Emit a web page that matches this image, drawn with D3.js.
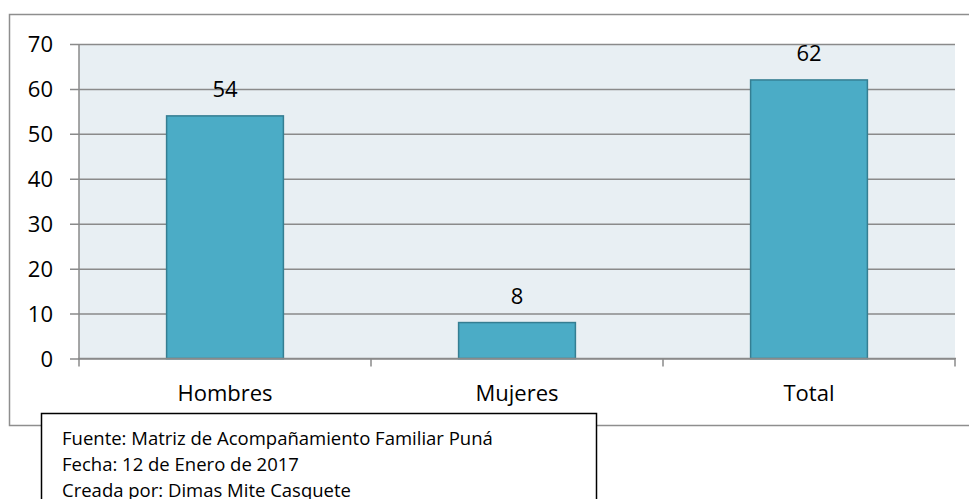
<!DOCTYPE html>
<html>
<head>
<meta charset="utf-8">
<script src="https://cdn.jsdelivr.net/npm/d3@7"></script>
<style>
  body { margin: 0; background: #fff; }
  text { font-family: "Open Sans", "Noto Sans", sans-serif; fill: #000; }
</style>
</head>
<body>
<div id="chart"></div>
<script>
// Data
var categories = ['Hombres', 'Mujeres', 'Total'];
var values     = [54, 8, 62];
var yTicks     = [0, 10, 20, 30, 40, 50, 60, 70];
var notes      = [
  'Fuente: Matriz de Acompañamiento Familiar Puná',
  'Fecha: 12 de Enero de 2017',
  'Creada por: Dimas Mite Casquete'
];

var W = 969, H = 499;
var plot = {left: 79, right: 955, top: 44, bottom: 358.5};

var svg = d3.select('#chart').append('svg')
  .attr('width', W)
  .attr('height', H);

// Outer chart frame (its right edge lies outside the picture)
svg.append('rect')
  .attr('x', 9.5).attr('y', 14.5)
  .attr('width', 980).attr('height', 411)
  .attr('fill', '#fff')
  .attr('stroke', '#8e8e8e')
  .attr('stroke-width', 1.5);

var x = d3.scaleBand()
  .domain(categories)
  .range([plot.left, plot.right])
  .paddingInner(0.6)
  .paddingOuter(0.3);

var y = d3.scaleLinear()
  .domain([0, 70])
  .range([plot.bottom, plot.top]);

// Plot area background
svg.append('rect')
  .attr('x', plot.left).attr('y', plot.top)
  .attr('width', plot.right - plot.left)
  .attr('height', plot.bottom - plot.top)
  .attr('fill', '#e8eff3');

// Y axis with gridlines
var yAxis = d3.axisLeft(y)
  .tickValues(yTicks)
  .tickSize(-(plot.right - plot.left))
  .tickPadding(0);

var yG = svg.append('g')
  .attr('transform', `translate(${plot.left},0)`)
  .call(yAxis);
yG.select('.domain').remove();
yG.selectAll('.tick line')
  .attr('x1', -9)
  .attr('stroke', '#8a8a8a')
  .attr('stroke-width', 1.5);
yG.selectAll('.tick text')
  .attr('x', -26)
  .attr('dy', '0.36em')
  .style('font-size', '22px')
  .style('font-family', '"Open Sans", sans-serif')
  .attr('fill', '#000');

// Y axis line
svg.append('line')
  .attr('x1', plot.left).attr('x2', plot.left)
  .attr('y1', plot.top).attr('y2', plot.bottom + 1)
  .attr('stroke', '#8a8a8a')
  .attr('stroke-width', 1.5);

// Bars
svg.selectAll('rect.bar')
  .data(values)
  .enter().append('rect')
  .attr('class', 'bar')
  .attr('x', (d, i) => x(categories[i]))
  .attr('y', (d) => y(d))
  .attr('width', x.bandwidth())
  .attr('height', (d) => y(0) - y(d))
  .attr('fill', '#4bacc6')
  .attr('stroke', '#357e92')
  .attr('stroke-width', 1.5);

// Value labels
svg.selectAll('text.val')
  .data(values)
  .enter().append('text')
  .attr('class', 'val')
  .attr('x', (d, i) => x(categories[i]) + x.bandwidth() / 2)
  .attr('y', (d) => y(d) - 19)
  .attr('text-anchor', 'middle')
  .style('font-size', '22px')
  .text((d) => d);

// X axis: line, boundary ticks and labels
svg.append('line')
  .attr('x1', plot.left - 1).attr('x2', plot.right + 1)
  .attr('y1', plot.bottom).attr('y2', plot.bottom)
  .attr('stroke', '#8a8a8a')
  .attr('stroke-width', 1.5);

var step = x.step();
var boundaries = d3.range(categories.length + 1).map((i) => plot.left + i * step);
svg.selectAll('line.xtick')
  .data(boundaries)
  .enter().append('line')
  .attr('class', 'xtick')
  .attr('x1', (d) => d).attr('x2', (d) => d)
  .attr('y1', plot.bottom).attr('y2', plot.bottom + 8)
  .attr('stroke', '#8a8a8a')
  .attr('stroke-width', 1.5);

svg.selectAll('text.cat')
  .data(categories)
  .enter().append('text')
  .attr('class', 'cat')
  .attr('x', (d) => x(d) + x.bandwidth() / 2)
  .attr('y', 401)
  .attr('text-anchor', 'middle')
  .style('font-size', '22px')
  .text((d) => d);

// Source note box (runs past the bottom edge, as in the reference)
svg.append('rect')
  .attr('x', 41.5).attr('y', 413.5)
  .attr('width', 555).attr('height', 100)
  .attr('fill', '#fff')
  .attr('stroke', '#000')
  .attr('stroke-width', 1.5);

svg.selectAll('text.note')
  .data(notes)
  .enter().append('text')
  .attr('class', 'note')
  .attr('x', 62)
  .attr('y', (d, i) => 445 + i * 26)
  .style('font-size', '18.5px')
  .text((d) => d);
</script>
</body>
</html>
